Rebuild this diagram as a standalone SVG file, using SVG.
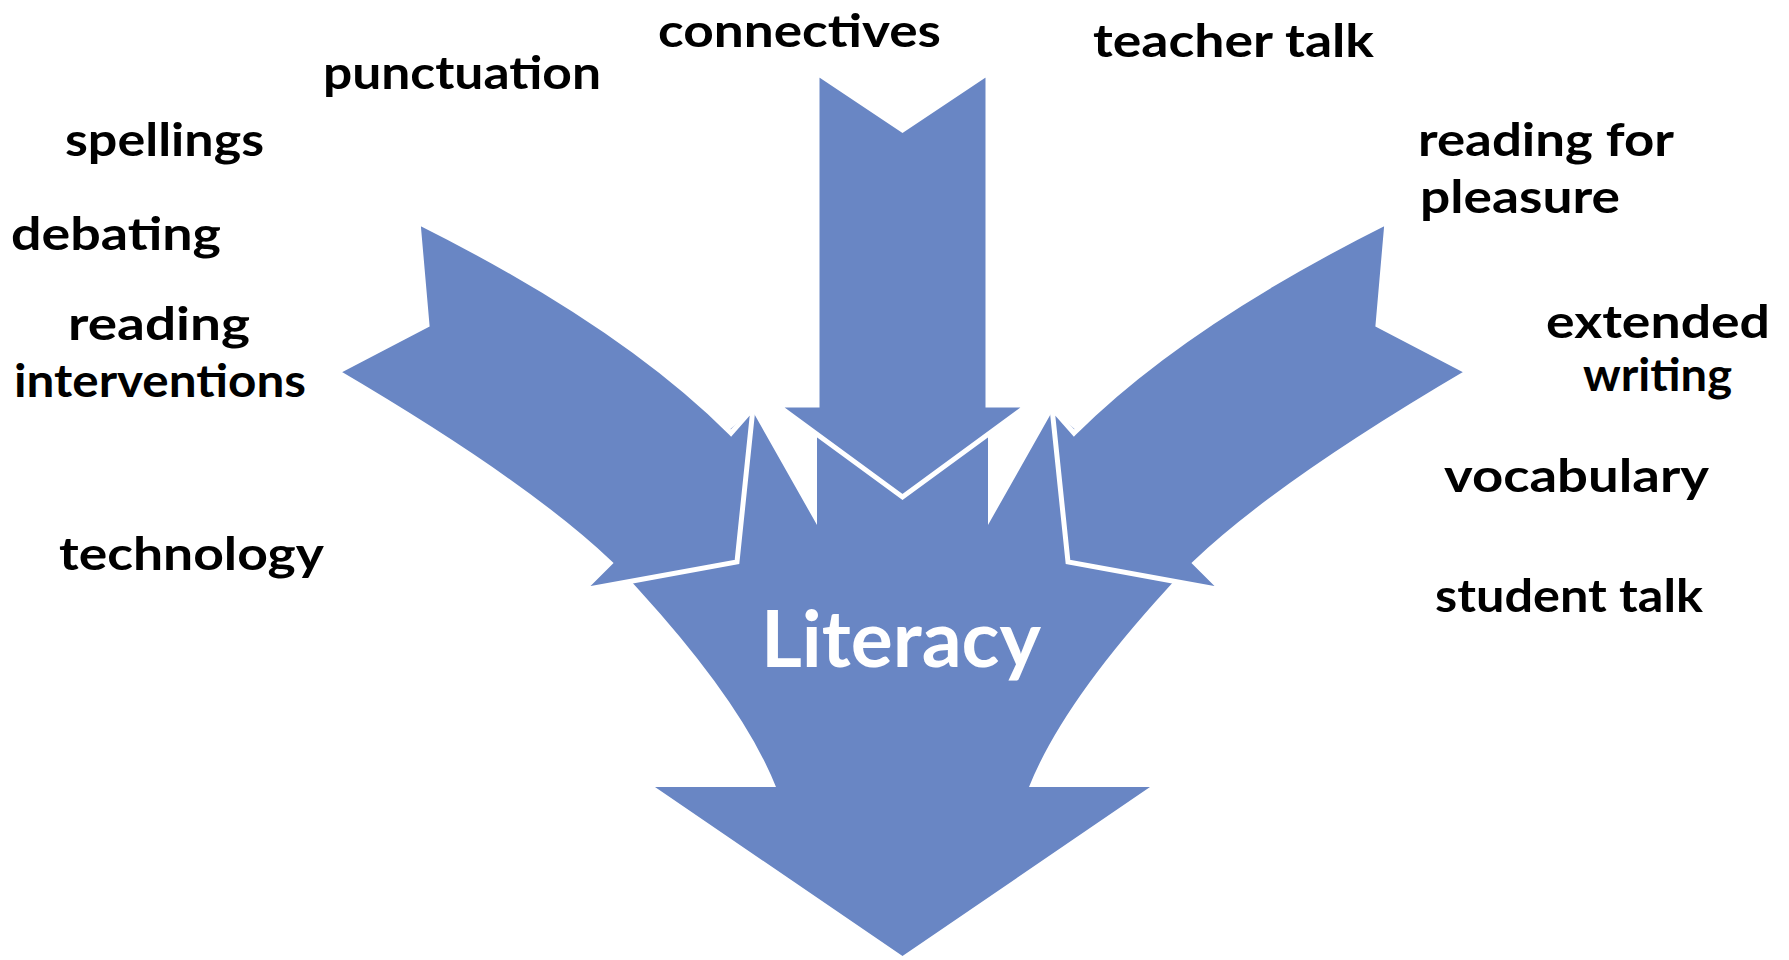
<svg xmlns="http://www.w3.org/2000/svg" width="1789" height="960" viewBox="0 0 1789 960">
<style>
.arrow{fill:#6986C4;stroke:#ffffff;stroke-width:5;stroke-linejoin:miter}
.big{fill:#6986C4;stroke:none}
.lbl{font-family:Lato,"Liberation Sans",sans-serif;font-weight:700;font-size:46px;fill:#000000}
.main{font-family:Lato,"Liberation Sans",sans-serif;font-weight:700;font-size:79px;fill:#ffffff}
</style>
<rect x="0" y="0" width="1789" height="960" fill="#ffffff"/>
<g id="connectors">
<g id="literacy-arrow">
<path class="big" d="M817,420 L988,420 L988,525 L1053,410 L1121,470 L1185,569 L1166,590 Q1062,704 1029,787 L1150,787 L902.5,956 L655,787 L776,787 Q743,704 639,590 L620,569 L684,470 L752,410 L817,525 Z"/>
</g>
<g id="left-arrow">
<path class="arrow" d="M418,222 Q622,324 731,433 L753,408 L737,562 L583,590 L610,563 Q526,483 337,372 L427,325 Z"/>
</g>
<g id="right-arrow">
<path class="arrow" transform="matrix(-1 0 0 1 1805 0)" d="M418,222 Q622,324 731,433 L753,408 L737,562 L583,590 L610,563 Q526,483 337,372 L427,325 Z"/>
</g>
<g id="top-arrow">
<path class="arrow" d="M817,73 L902.5,130 L988,73 L988,405 L1028,405 L902.5,497 L777,405 L817,405 Z"/>
</g>
</g>
<g id="node-literacy"><text class="main" x="761" y="667" textLength="280" lengthAdjust="spacingAndGlyphs">Literacy</text></g>
<g id="node-connectives"><text class="lbl" x="658" y="47" textLength="283" lengthAdjust="spacingAndGlyphs">connectives</text></g>
<g id="node-teacher-talk"><text class="lbl" x="1093" y="57" textLength="281" lengthAdjust="spacingAndGlyphs">teacher talk</text></g>
<g id="node-punctuation"><text class="lbl" x="323" y="89" textLength="278" lengthAdjust="spacingAndGlyphs">punctuation</text></g>
<g id="node-spellings"><text class="lbl" x="65" y="156" textLength="199" lengthAdjust="spacingAndGlyphs">spellings</text></g>
<g id="node-reading-for-pleasure">
<text class="lbl" x="1418" y="156" textLength="256" lengthAdjust="spacingAndGlyphs">reading for</text>
<text class="lbl" x="1420" y="213" textLength="200" lengthAdjust="spacingAndGlyphs">pleasure</text>
</g>
<g id="node-debating"><text class="lbl" x="11" y="250" textLength="210" lengthAdjust="spacingAndGlyphs">debating</text></g>
<g id="node-reading-interventions">
<text class="lbl" x="68" y="340" textLength="182" lengthAdjust="spacingAndGlyphs">reading</text>
<text class="lbl" x="14" y="397" textLength="292" lengthAdjust="spacingAndGlyphs">interventions</text>
</g>
<g id="node-extended-writing">
<text class="lbl" x="1546" y="338" textLength="224" lengthAdjust="spacingAndGlyphs">extended</text>
<text class="lbl" x="1583" y="391" textLength="149" lengthAdjust="spacingAndGlyphs">writing</text>
</g>
<g id="node-vocabulary"><text class="lbl" x="1444" y="492" textLength="265" lengthAdjust="spacingAndGlyphs">vocabulary</text></g>
<g id="node-technology"><text class="lbl" x="59" y="570" textLength="265" lengthAdjust="spacingAndGlyphs">technology</text></g>
<g id="node-student-talk"><text class="lbl" x="1435" y="612" textLength="268" lengthAdjust="spacingAndGlyphs">student talk</text></g>
</svg>
